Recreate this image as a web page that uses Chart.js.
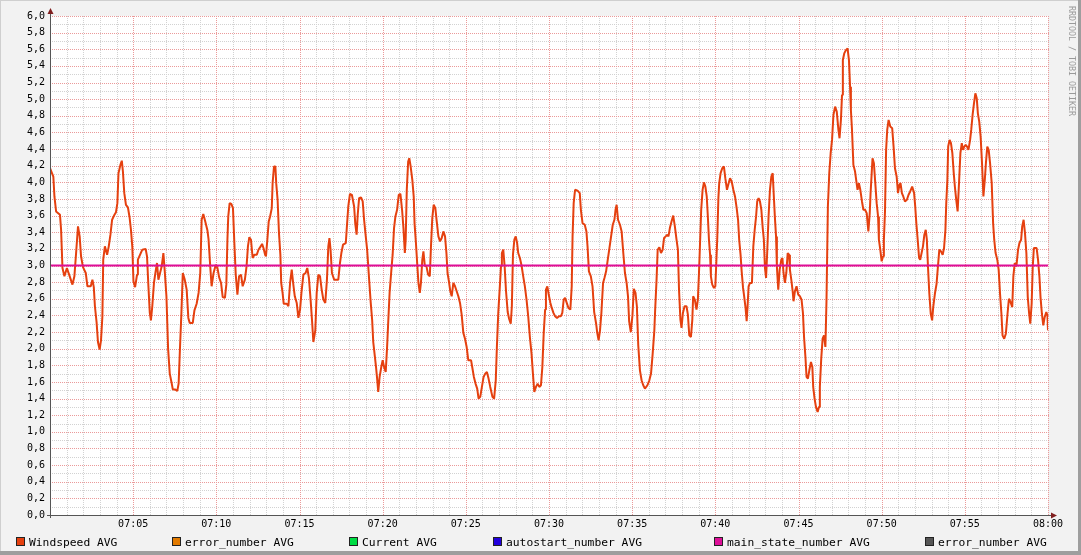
<!DOCTYPE html>
<html>
<head>
<meta charset="utf-8">
<script src="https://cdn.jsdelivr.net/npm/chart.js@4.4.1/dist/chart.umd.min.js"></script>
<style>
  html, body { margin: 0; padding: 0; background: #f2f2f2; }
  #wrap { width: 1081px; height: 555px; }
</style>
</head>
<body>
<div id="wrap"><canvas id="rrd" width="1081" height="555"></canvas></div>
<script>
// seconds after 07:00
const sampleSeconds = [
  0, 12, 16, 22, 36, 40, 45, 52, 61, 69,
  81, 88, 95, 101, 107, 112, 119, 129, 135, 147,
  153, 158, 162, 168, 173, 179, 184, 189, 192, 198,
  206, 212, 218, 224, 231, 238, 243, 247, 254, 259,
  263, 268, 274, 281, 287, 292, 297, 301, 307, 314,
  317, 325, 333, 345, 350, 355, 360, 364, 369, 375,
  381, 386, 391, 397, 403, 409, 414, 420, 426, 432,
  438, 443, 452, 459, 464, 469, 474, 479, 486, 493,
  499, 504, 515, 521, 529, 536, 542, 547, 553, 560,
  568, 572, 578, 583, 590, 598, 604, 610, 617, 623,
  631, 636, 640, 643, 648, 654, 660, 665, 670, 676,
  682, 689, 695, 703, 709, 714, 719, 725, 731, 737,
  746, 752, 760, 765, 770, 776, 779, 784, 789, 794,
  800, 803, 808, 813, 816, 821, 826, 831, 834, 839,
  843, 854, 860, 866, 872, 877, 883, 890, 896, 902,
  907, 914, 922, 928, 934, 940, 945, 950, 957, 962,
  968, 974, 980, 986, 993, 999, 1004, 1008, 1012, 1017,
  1025, 1040, 1046, 1051, 1057, 1067, 1071, 1076, 1082, 1089,
  1097, 1101, 1106, 1110, 1115, 1122, 1128, 1133, 1139, 1144,
  1148, 1152, 1157, 1162, 1166, 1172, 1176, 1180, 1184, 1189,
  1195, 1200, 1205, 1211, 1216, 1221, 1225, 1231, 1236, 1241,
  1246, 1252, 1258, 1264, 1270, 1275, 1280, 1283, 1287, 1292,
  1296, 1301, 1307, 1312, 1315, 1320, 1325, 1329, 1334, 1338,
  1343, 1347, 1352, 1358, 1364, 1370, 1374, 1379, 1384, 1390,
  1395, 1401, 1407, 1413, 1419, 1425, 1430, 1434, 1439, 1444,
  1449, 1455, 1461, 1467, 1473, 1479, 1485, 1491, 1497, 1503,
  1509, 1519, 1523, 1529, 1535, 1541, 1546, 1552, 1558, 1564,
  1570, 1576, 1582, 1588, 1596, 1602, 1608, 1612, 1617, 1622,
  1627, 1630, 1635, 1640, 1645, 1651, 1656, 1662, 1666, 1670,
  1675, 1680, 1685, 1689, 1695, 1701, 1707, 1713, 1719, 1725,
  1731, 1737, 1742, 1747, 1753, 1759, 1765, 1771, 1776, 1781,
  1786, 1789, 1794, 1799, 1805, 1810, 1816, 1822, 1829, 1836,
  1843, 1848, 1853, 1858, 1864, 1870, 1877, 1882, 1885, 1889,
  1894, 1903, 1911, 1915, 1921, 1929, 1935, 1939, 1944, 1951,
  1957, 1963, 1970, 1974, 1979, 1984, 1989, 1995, 2000, 2006,
  2012, 2018, 2024, 2030, 2036, 2040, 2044, 2049, 2056, 2062,
  2068, 2074, 2080, 2085, 2089, 2095, 2101, 2106, 2112, 2117,
  2122, 2128, 2134, 2140, 2146, 2155, 2162, 2168, 2174, 2180,
  2183, 2188, 2192, 2198, 2204, 2210, 2215, 2221, 2227, 2231,
  2236, 2242, 2248, 2254, 2260, 2265, 2269, 2274, 2278, 2283,
  2289, 2296, 2301, 2306, 2312, 2317, 2320, 2326, 2332, 2337,
  2341, 2344, 2349, 2354, 2359, 2364, 2369, 2373, 2377, 2381,
  2384, 2389, 2395, 2400, 2403, 2407, 2411, 2414, 2419, 2425,
  2431, 2436, 2442, 2448, 2453, 2459, 2465, 2471, 2477, 2482,
  2486, 2491, 2495, 2500, 2504, 2509, 2513, 2516, 2520, 2525,
  2532, 2537, 2542, 2547, 2551, 2556, 2561, 2566, 2571, 2575,
  2579, 2583, 2587, 2592, 2597, 2602, 2607, 2611, 2615, 2619,
  2622, 2627, 2632, 2638, 2642, 2646, 2651, 2656, 2661, 2666,
  2669, 2674, 2679, 2682, 2687, 2693, 2699, 2705, 2711, 2716,
  2720, 2725, 2729, 2734, 2739, 2745, 2750, 2753, 2758, 2763,
  2769, 2774, 2777, 2782, 2787, 2792, 2797, 2801, 2806, 2811,
  2816, 2821, 2826, 2832, 2838, 2844, 2848, 2853, 2857, 2860,
  2865, 2871, 2877, 2882, 2886, 2889, 2893, 2898, 2904, 2908,
  2913, 2918, 2923, 2929, 2934, 2940, 2946, 2952, 2957, 2960,
  2964, 2967, 2972, 2977, 2982, 2987, 2990, 2995, 3000, 3005,
  3008, 3012, 3016, 3020, 3025, 3031, 3038, 3043, 3048, 3054,
  3059, 3064, 3068, 3073, 3078, 3084, 3091, 3097, 3103, 3110,
  3117, 3121, 3125, 3130, 3135, 3139, 3144, 3149, 3154, 3159,
  3163, 3167, 3172, 3177, 3182, 3186, 3192, 3198, 3203, 3208,
  3214, 3220, 3225, 3230, 3233, 3237, 3240, 3245, 3250, 3255,
  3260, 3264, 3269, 3274, 3279, 3284, 3289, 3293, 3298, 3303,
  3308, 3313, 3319, 3323, 3328, 3333, 3338, 3343, 3347, 3352,
  3357, 3362, 3367, 3372, 3376, 3381, 3386, 3391, 3397, 3402,
  3406, 3411, 3417, 3422, 3427, 3432, 3436, 3442, 3448, 3454,
  3459, 3465, 3471, 3475, 3480, 3486, 3492, 3497, 3503, 3507,
  3512, 3517, 3522, 3527, 3532, 3536, 3541, 3545, 3549, 3559,
  3564, 3569, 3573, 3578, 3583, 3588, 3594, 3598, 3600
];

const windspeedAvg = [
  4.17, 4.07, 3.83, 3.65, 3.61, 3.43, 2.97, 2.87, 2.97, 2.89,
  2.77, 2.87, 3.19, 3.47, 3.35, 3.11, 2.98, 2.91, 2.75, 2.75,
  2.83, 2.74, 2.51, 2.32, 2.08, 1.99, 2.10, 2.39, 3.07, 3.23,
  3.13, 3.23, 3.37, 3.55, 3.60, 3.64, 3.75, 4.11, 4.21, 4.26,
  4.13, 3.87, 3.73, 3.70, 3.58, 3.43, 3.22, 2.81, 2.74, 2.89,
  3.07, 3.13, 3.19, 3.20, 3.11, 2.75, 2.43, 2.34, 2.51, 2.79,
  2.93, 3.03, 2.83, 2.91, 2.99, 3.15, 2.93, 2.63, 2.00, 1.70,
  1.60, 1.51, 1.51, 1.49, 1.58, 2.02, 2.43, 2.91, 2.83, 2.71,
  2.37, 2.31, 2.31, 2.46, 2.54, 2.67, 2.91, 3.55, 3.62, 3.53,
  3.42, 3.31, 2.99, 2.75, 2.91, 3.01, 2.97, 2.86, 2.79, 2.62,
  2.61, 2.77, 3.31, 3.59, 3.75, 3.74, 3.69, 3.27, 2.89, 2.65,
  2.87, 2.89, 2.75, 2.83, 2.99, 3.23, 3.34, 3.31, 3.09, 3.13,
  3.13, 3.19, 3.23, 3.26, 3.21, 3.13, 3.11, 3.31, 3.53, 3.59,
  3.69, 3.99, 4.19, 4.19, 3.99, 3.79, 3.39, 3.13, 2.79, 2.67,
  2.54, 2.54, 2.51, 2.79, 2.95, 2.79, 2.63, 2.55, 2.37, 2.47,
  2.67, 2.89, 2.91, 2.97, 2.85, 2.59, 2.35, 2.08, 2.22, 2.67,
  2.89, 2.87, 2.71, 2.59, 2.55, 2.83, 3.23, 3.33, 3.19, 2.91,
  2.83, 2.83, 3.03, 3.15, 3.25, 3.27, 3.47, 3.71, 3.86, 3.85,
  3.71, 3.51, 3.37, 3.61, 3.81, 3.82, 3.77, 3.55, 3.35, 3.19,
  2.99, 2.79, 2.55, 2.35, 2.08, 1.90, 1.78, 1.64, 1.48, 1.66,
  1.78, 1.86, 1.78, 1.72, 2.02, 2.39, 2.67, 2.93, 3.13, 3.45,
  3.59, 3.67, 3.85, 3.86, 3.67, 3.45, 3.15, 3.31, 3.91, 4.25,
  4.29, 4.19, 4.03, 3.83, 3.51, 3.27, 3.00, 2.79, 2.67, 2.79,
  3.07, 3.17, 3.00, 2.99, 2.89, 2.87, 3.21, 3.57, 3.73, 3.69,
  3.53, 3.35, 3.29, 3.33, 3.41, 3.35, 3.15, 2.91, 2.81, 2.69,
  2.63, 2.79, 2.75, 2.69, 2.63, 2.55, 2.41, 2.19, 2.12, 2.02,
  1.86, 1.86, 1.78, 1.66, 1.58, 1.52, 1.40, 1.42, 1.54, 1.66,
  1.70, 1.72, 1.64, 1.54, 1.42, 1.40, 1.62, 2.02, 2.43, 2.71,
  3.00, 3.15, 3.19, 2.99, 2.69, 2.44, 2.36, 2.30, 2.51, 3.13,
  3.31, 3.35, 3.27, 3.15, 3.09, 3.00, 2.87, 2.75, 2.59, 2.39,
  2.14, 1.94, 1.70, 1.48, 1.54, 1.58, 1.54, 1.56, 1.78, 2.19,
  2.47, 2.71, 2.75, 2.65, 2.55, 2.49, 2.43, 2.39, 2.37, 2.39,
  2.39, 2.43, 2.59, 2.61, 2.55, 2.49, 2.47, 2.75, 3.35, 3.75,
  3.91, 3.90, 3.87, 3.67, 3.51, 3.49, 3.41, 3.23, 2.93, 2.87,
  2.75, 2.44, 2.30, 2.19, 2.10, 2.22, 2.43, 2.79, 2.85, 2.93,
  3.07, 3.21, 3.35, 3.49, 3.55, 3.67, 3.73, 3.55, 3.49, 3.41,
  3.15, 2.91, 2.79, 2.63, 2.33, 2.20, 2.40, 2.72, 2.67, 2.51,
  2.04, 1.74, 1.62, 1.56, 1.52, 1.56, 1.62, 1.70, 1.94, 2.22,
  2.47, 2.83, 3.19, 3.22, 3.15, 3.19, 3.33, 3.35, 3.37, 3.35,
  3.45, 3.53, 3.60, 3.47, 3.31, 3.19, 2.71, 2.35, 2.25, 2.43,
  2.51, 2.51, 2.41, 2.16, 2.14, 2.35, 2.63, 2.59, 2.47, 2.59,
  2.91, 3.19, 3.67, 3.91, 4.00, 3.95, 3.83, 3.59, 3.31, 3.13,
  2.87, 2.77, 2.73, 2.75, 2.99, 3.33, 3.81, 3.99, 4.11, 4.17,
  4.19, 4.05, 3.91, 3.99, 4.05, 4.01, 3.91, 3.83, 3.69, 3.55,
  3.31, 3.13, 2.93, 2.73, 2.63, 2.49, 2.33, 2.49, 2.75, 2.79,
  2.79, 3.23, 3.43, 3.59, 3.77, 3.81, 3.77, 3.67, 3.45, 3.31,
  2.97, 2.85, 3.15, 3.59, 3.91, 4.07, 4.11, 3.83, 3.57, 3.35,
  2.99, 2.71, 2.95, 3.07, 3.09, 2.91, 2.79, 2.91, 3.15, 3.13,
  2.95, 2.83, 2.69, 2.57, 2.69, 2.75, 2.65, 2.63, 2.59, 2.43,
  2.14, 1.90, 1.66, 1.64, 1.74, 1.84, 1.78, 1.54, 1.40, 1.30,
  1.24, 1.30, 1.54, 1.88, 2.12, 2.16, 2.02, 2.58, 3.71, 4.11,
  4.35, 4.51, 4.81, 4.91, 4.85, 4.63, 4.53, 4.75, 5.05, 5.47,
  5.55, 5.59, 5.61, 5.47, 5.15, 4.87, 4.63, 4.21, 4.13, 4.03,
  3.91, 3.99, 3.91, 3.77, 3.67, 3.67, 3.63, 3.41, 3.63, 3.87,
  4.11, 4.29, 4.23, 3.99, 3.75, 3.59, 3.31, 3.19, 3.05, 3.11,
  3.31, 3.65, 4.39, 4.63, 4.75, 4.67, 4.65, 4.43, 4.17, 4.07,
  3.87, 3.97, 3.99, 3.87, 3.83, 3.77, 3.79, 3.85, 3.89, 3.95,
  3.87, 3.71, 3.51, 3.31, 3.09, 3.07, 3.15, 3.23, 3.37, 3.43,
  3.31, 2.99, 2.66, 2.42, 2.34, 2.50, 2.66, 2.78, 2.99, 3.19,
  3.17, 3.13, 3.21, 3.43, 3.75, 4.03, 4.43, 4.51, 4.47, 4.35,
  4.11, 3.95, 3.79, 3.65, 3.99, 4.35, 4.47, 4.39, 4.43, 4.45,
  4.43, 4.39, 4.51, 4.63, 4.81, 4.95, 5.07, 5.01, 4.83, 4.73,
  4.55, 4.23, 3.83, 4.03, 4.23, 4.43, 4.39, 4.23, 3.99, 3.51,
  3.31, 3.15, 3.07, 2.95, 2.66, 2.42, 2.16, 2.12, 2.18, 2.42,
  2.60, 2.56, 2.50, 2.87, 3.03, 2.99, 3.19, 3.27, 3.31, 3.47,
  3.55, 3.39, 3.15, 2.62, 2.42, 2.30, 2.54, 2.99, 3.21, 3.21,
  3.07, 2.87, 2.62, 2.42, 2.28, 2.38, 2.44, 2.40, 2.22
];

const mainStateSeconds = [0, 3600];
const mainStateAvg = [3, 3];

const legendItems = ['Windspeed AVG', 'error_number AVG', 'Current AVG',
  'autostart_number AVG', 'main_state_number AVG', 'error_number AVG'];
const legendColors = ['#e5400f', '#e27a00', '#00dd44', '#2200dd', '#dd0f98', '#555555'];
const legendX = [16, 172, 349, 493, 714, 925];

const yMax = 6;
const xMax = 3600;

const pad2 = n => String(n).padStart(2, '0');
const timeLabel = s => {
  const m = Math.round(s / 60);
  return pad2(7 + Math.floor(m / 60)) + ':' + pad2(m % 60);
};

const mono = 'DejaVu Sans Mono';

const rrdFrame = {
  id: 'rrdFrame',
  beforeDraw(chart) {
    const { ctx, chartArea: a } = chart;
    ctx.save();
    ctx.fillStyle = '#f2f2f2';
    ctx.fillRect(0, 0, chart.width, chart.height);
    ctx.fillStyle = '#ffffff';
    ctx.fillRect(a.left, a.top, a.right - a.left, a.bottom - a.top);
    ctx.restore();
  },
  beforeDatasetsDraw(chart) {
    // dotted rrdtool grid, minor first then major on top
    const { ctx, chartArea: a, scales: { x, y } } = chart;
    ctx.save();
    ctx.lineWidth = 1;
    ctx.setLineDash([1, 1]);
    for (const major of [false, true]) {
      ctx.strokeStyle = major ? '#eb9a9a' : '#d2d2d2';
      ctx.beginPath();
      for (let s = 0; s <= xMax; s += 60) {
        if ((s % 300 === 0) !== major) continue;
        const px = Math.round(x.getPixelForValue(s)) + 0.5;
        ctx.moveTo(px, a.top);
        ctx.lineTo(px, a.bottom);
      }
      for (let k = 0; k <= yMax * 10; k++) {
        if ((k % 2 === 0) !== major) continue;
        const py = Math.round(y.getPixelForValue(k / 10)) + 0.5;
        ctx.moveTo(a.left, py);
        ctx.lineTo(a.right + 1, py);
      }
      ctx.stroke();
    }
    ctx.restore();
  },
  afterDraw(chart) {
    const { ctx, chartArea: a } = chart;
    ctx.save();
    // axes
    ctx.strokeStyle = '#555';
    ctx.lineWidth = 1;
    ctx.beginPath();
    ctx.moveTo(a.left + 0.5, a.bottom + 3);
    ctx.lineTo(a.left + 0.5, a.top - 4);
    ctx.moveTo(a.left - 3, a.bottom + 0.5);
    ctx.lineTo(a.right + 4, a.bottom + 0.5);
    ctx.stroke();
    // arrows
    ctx.fillStyle = '#801f1f';
    ctx.beginPath();
    ctx.moveTo(a.left + 0.5, a.top - 8);
    ctx.lineTo(a.left - 2.5, a.top - 2);
    ctx.lineTo(a.left + 3.5, a.top - 2);
    ctx.closePath();
    ctx.fill();
    ctx.beginPath();
    ctx.moveTo(a.right + 9, a.bottom + 0.5);
    ctx.lineTo(a.right + 3, a.bottom - 2.5);
    ctx.lineTo(a.right + 3, a.bottom + 3.5);
    ctx.closePath();
    ctx.fill();

    // legend
    ctx.font = '11.3px "' + mono + '"';
    ctx.textBaseline = 'alphabetic';
    legendItems.forEach((t, i) => {
      const lx = legendX[i];
      ctx.fillStyle = legendColors[i];
      ctx.fillRect(lx, 537, 8, 8);
      ctx.strokeStyle = '#222';
      ctx.strokeRect(lx + 0.5, 537.5, 8, 8);
      ctx.fillStyle = '#000';
      ctx.fillText(t, lx + 13, 546);
    });

    // watermark
    ctx.translate(1071, 6);
    ctx.rotate(Math.PI / 2);
    ctx.font = '8.3px "' + mono + '"';
    ctx.fillStyle = '#9a9a9a';
    ctx.textBaseline = 'middle';
    ctx.fillText('RRDTOOL / TOBI OETIKER', 0, 0);
    ctx.setTransform(1, 0, 0, 1, 0, 0);

    // shade border
    ctx.fillStyle = '#cfcfcf';
    ctx.fillRect(0, 0, chart.width, 1);
    ctx.fillRect(0, 0, 1, chart.height);
    ctx.fillStyle = '#9e9e9e';
    ctx.fillRect(chart.width - 3, 0, 3, chart.height);
    ctx.fillRect(0, chart.height - 4, chart.width, 4);
    ctx.restore();
  }
};

new Chart(document.getElementById('rrd'), {
  type: 'line',
  data: {
    datasets: [{
      label: 'main_state_number AVG',
      data: mainStateSeconds.map((s, i) => ({ x: s, y: mainStateAvg[i] })),
      borderColor: '#dd0f98',
      borderWidth: 2,
      pointRadius: 0,
      order: 0
    }, {
      label: 'Windspeed AVG',
      data: sampleSeconds.map((s, i) => ({ x: s, y: windspeedAvg[i] })),
      borderColor: '#e5400f',
      borderWidth: 2,
      borderJoinStyle: 'bevel',
      pointRadius: 0,
      tension: 0,
      order: 1
    }]
  },
  options: {
    responsive: false,
    animation: false,
    devicePixelRatio: 1,
    layout: { padding: { left: 0, top: 16, right: 33, bottom: 0 } },
    plugins: { legend: { display: false }, tooltip: { enabled: false } },
    scales: {
      x: {
        type: 'linear',
        min: 0,
        max: xMax,
        afterFit(scale) { scale.height = 40; },
        border: { display: false },
        grid: { display: false, drawTicks: false },
        ticks: {
          stepSize: 60,
          autoSkip: false,
          maxRotation: 0,
          padding: 3,
          color: '#000',
          font: { family: mono, size: 10 },
          callback: v => (v > 0 && v % 300 === 0) ? timeLabel(v) : ''
        }
      },
      y: {
        min: 0,
        max: yMax,
        afterFit(scale) { scale.width = 50; },
        border: { display: false },
        grid: { display: false, drawTicks: false },
        ticks: {
          stepSize: 0.1,
          autoSkip: false,
          padding: 5,
          color: '#000',
          font: { family: mono, size: 10 },
          callback: v => Math.round(v * 10) % 2 === 0 ? v.toFixed(1).replace('.', ',') : ''
        }
      }
    }
  },
  plugins: [rrdFrame]
});
</script>
</body>
</html>
